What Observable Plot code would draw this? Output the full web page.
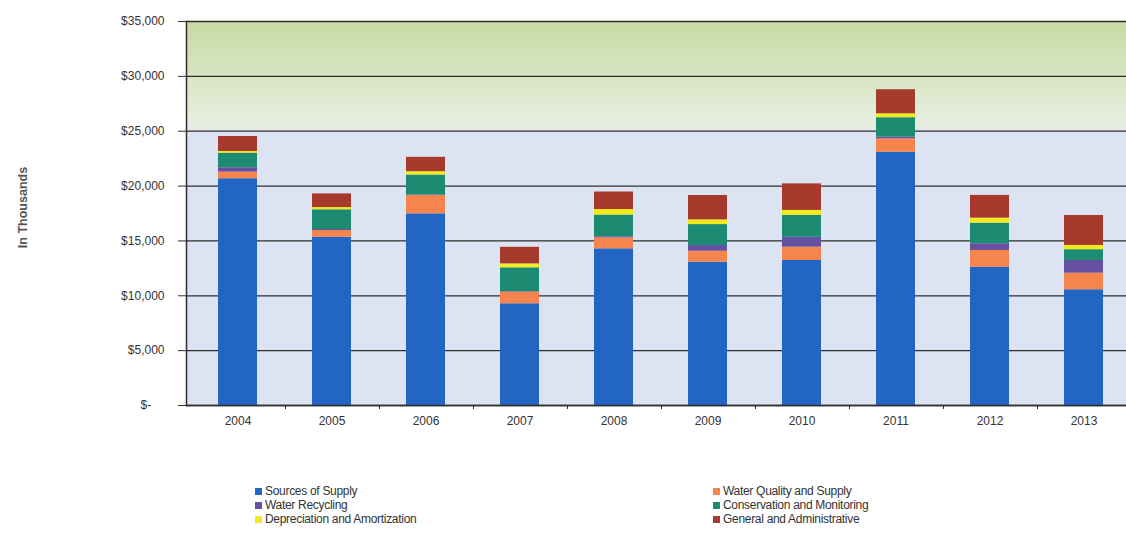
<!DOCTYPE html>
<html>
<head>
<meta charset="utf-8">
<script src="https://cdn.jsdelivr.net/npm/d3@7"></script>
<script src="https://cdn.jsdelivr.net/npm/@observablehq/plot@0.6"></script>
<style>
  body { margin: 0; background: #ffffff; font-family: "Liberation Sans", Arial, sans-serif; }
  #chart { width: 1126px; height: 440px; }
  #legend { position: relative; width: 1126px; height: 104px; }
  #legend .grid { position: absolute; left: 255px; top: 44px; display: grid; grid-template-columns: 458px auto; grid-auto-rows: 14px; }
  #legend .item { font-size: 12px; letter-spacing: -0.3px; color: #333; line-height: 14px; white-space: nowrap; display: flex; align-items: center; }
  #legend .sw { width: 7px; height: 7px; margin-right: 3px; display: inline-block; }
</style>
</head>
<body>
<div id="chart"></div>
<div id="legend"><div class="grid"></div></div>
<script>
// ---- Data (in $ thousands) ----
const years = ["2004","2005","2006","2007","2008","2009","2010","2011","2012","2013"];
const seriesNames = ["Sources of Supply","Water Quality and Supply","Water Recycling","Conservation and Monitoring","Depreciation and Amortization","General and Administrative"];
const sourcesOfSupply   = [20670, 15340, 17470,  9270, 14280, 13060, 13220, 23090, 12610, 10550];
const waterQuality      = [  600,   600,  1670,  1060,  1000,  1000,  1210,  1220,  1520,  1510];
const waterRecycling    = [  400,   100,    50,    50,   100,   520,   900,   150,   610,  1160];
const conservation      = [ 1330,  1800,  1820,  2170,  1980,  1910,  2000,  1770,  1880,   980];
const depreciation      = [  150,   200,   300,   360,   500,   430,   450,   360,   460,   390];
const generalAdmin      = [ 1370,  1250,  1310,  1510,  1600,  2220,  2420,  2190,  2070,  2730];
const yTicks = [0, 5000, 10000, 15000, 20000, 25000, 30000, 35000];
const seriesColors = ["#2265c2", "#f5854c", "#6650a2", "#1d8a72", "#f2ea1e", "#a53a2d"];
const bandLow = [{from: 0, to: 25000}];
const bandHigh = [{from: 25000, to: 35000}];

const seriesValues = [sourcesOfSupply, waterQuality, waterRecycling, conservation, depreciation, generalAdmin];
const data = years.flatMap((yr, i) => seriesNames.map((name, s) => ({year: yr, category: name, value: seriesValues[s][i]})));

const fmt = d3.format(",");
const tickFmt = d => d === 0 ? "$-\u00a0\u00a0\u00a0\u00a0" : "$" + fmt(d);

function gradientDefs() {
  const ns = "http://www.w3.org/2000/svg";
  const defs = document.createElementNS(ns, "defs");
  const lg = document.createElementNS(ns, "linearGradient");
  lg.setAttribute("id", "topband");
  lg.setAttribute("x1", "0"); lg.setAttribute("y1", "0");
  lg.setAttribute("x2", "0"); lg.setAttribute("y2", "1");
  [["0%", "#c8daa3"], ["45%", "#d6e4bf"], ["85%", "#e4ecda"], ["100%", "#e6ebe6"]].forEach(([o, c]) => {
    const st = document.createElementNS(ns, "stop");
    st.setAttribute("offset", o); st.setAttribute("stop-color", c);
    lg.appendChild(st);
  });
  defs.appendChild(lg);
  return defs;
}

const chart = Plot.plot({
  width: 1126,
  height: 440,
  marginLeft: 186,
  marginRight: 0,
  marginTop: 21,
  marginBottom: 35,
  style: {fontFamily: "'Liberation Sans', Arial, sans-serif", fontSize: "12px", color: "#333", background: "transparent"},
  x: {domain: years, paddingInner: 0.59, paddingOuter: 0.2425, align: 0.575, label: null},
  y: {domain: [0, 35000], label: null},
  color: {domain: seriesNames, range: seriesColors},
  marks: [
    gradientDefs,
    Plot.rect(bandLow, {y1: "from", y2: "to", fill: "#dce4f3"}),
    Plot.rect(bandHigh, {y1: "from", y2: "to", fill: "url(#topband)"}),
    Plot.gridY(yTicks, {stroke: "#2e2e2e", strokeOpacity: 1, strokeWidth: 1.3}),
    Plot.barY(data, {x: "year", y: "value", fill: "category", order: seriesNames}),
    Plot.ruleY([0], {stroke: "#2e2e2e", strokeWidth: 1.5}),
    Plot.frame({anchor: "left", stroke: "#2e2e2e", strokeWidth: 1.5}),
    Plot.axisY({ticks: yTicks, tickFormat: tickFmt, tickSize: 8, tickPadding: 14, stroke: "#2e2e2e", fill: "#333", fontSize: 12, label: null}),
    Plot.axisX({tickSize: 0, tickPadding: 11, fill: "#333", fontSize: 12, label: null}),
    Plot.axisX({tickSize: 4, tickFormat: () => "", dx: 47.5, stroke: "#2e2e2e", label: null}),
    Plot.text(["In Thousands"], {frameAnchor: "left", textAnchor: "middle", dx: -164, dy: -6, rotate: -90, fontWeight: "bold", fontSize: 12.5, fill: "#555"})
  ]
});
document.getElementById("chart").appendChild(chart);

// Legend (row-major, two columns)
const grid = document.querySelector("#legend .grid");
seriesNames.forEach((name, i) => {
  const item = document.createElement("div");
  item.className = "item";
  const sw = document.createElement("span");
  sw.className = "sw";
  sw.style.background = seriesColors[i];
  item.appendChild(sw);
  item.appendChild(document.createTextNode(name));
  grid.appendChild(item);
});
</script>
</body>
</html>
